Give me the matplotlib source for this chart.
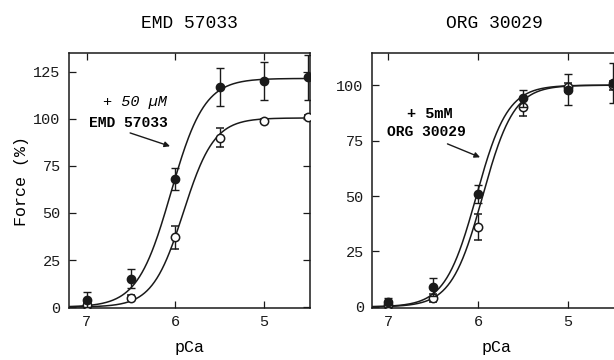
import numpy as np
import matplotlib.pyplot as plt

plt.rcParams['font.family'] = ['Liberation Mono', 'DejaVu Sans Mono']

# pCa values measured
pca = [7.0, 6.5, 6.0, 5.5, 5.0, 4.5]

# EMD 57033 panel
emd_ctrl = [1, 5, 37, 90, 99, 101]
emd_ctrl_err = [1, 1.5, 6, 5, 1, 1]
emd_drug = [4, 15, 68, 117, 120, 122]
emd_drug_err = [4, 5, 6, 10, 10, 12]

# ORG 30029 panel
org_ctrl = [1, 4, 36, 90, 99, 100]
org_ctrl_err = [1, 2, 6, 4, 2, 2]
org_drug = [2, 9, 51, 94, 98, 101]
org_drug_err = [2, 4, 4, 4, 7, 9]

# Hill fit parameters (Fmax, pCa50, n)
emd_ctrl_fit = (100.5, 5.91, 2.5)
emd_drug_fit = (121.5, 6.05, 2.3)
org_ctrl_fit = (100.0, 5.95, 2.5)
org_drug_fit = (100.0, 6.02, 2.5)


def hill(x, fmax, p50, n):
    return fmax / (1 + 10 ** (n * (x - p50)))


fig = plt.figure(figsize=(6.14, 3.6), dpi=100)
ax1 = fig.add_axes([0.1124, 0.1444, 0.3925, 0.7083])
ax2 = fig.add_axes([0.606, 0.1444, 0.407, 0.7083])

xs = np.linspace(7.2, 4.4, 300)
ink = '#1a1a1a'


def draw(ax, ctrl, ctrl_err, drug, drug_err, cfit, dfit):
    ax.plot(xs, hill(xs, *cfit), color=ink, lw=1.1)
    ax.plot(xs, hill(xs, *dfit), color=ink, lw=1.1)
    ax.errorbar(pca, ctrl, yerr=ctrl_err, fmt='o', ms=6, mfc='white',
                mec=ink, mew=1.1, ecolor=ink, elinewidth=1.0, capsize=3, zorder=3)
    ax.errorbar(pca, drug, yerr=drug_err, fmt='o', ms=6, mfc=ink,
                mec=ink, ecolor=ink, elinewidth=1.0, capsize=3, zorder=4)
    ax.tick_params(direction='in', top=True, right=True, length=5,
                   width=0.9, labelsize=11, colors=ink)
    ax.tick_params(axis='y', pad=6)
    ax.tick_params(axis='x', pad=5)
    for s in ax.spines.values():
        s.set_linewidth(1.1)
        s.set_color(ink)
    ax.set_xticks([7, 6, 5])
    ax.set_xlabel('pCa', fontsize=12, labelpad=8)


draw(ax1, emd_ctrl, emd_ctrl_err, emd_drug, emd_drug_err, emd_ctrl_fit, emd_drug_fit)
ax1.set_xlim(7.2, 4.48)
ax1.set_ylim(-0.5, 135)
ax1.set_yticks([0, 25, 50, 75, 100, 125])
ax1.set_ylabel('Force (%)', fontsize=12, labelpad=3)
ax1.set_title('EMD 57033', fontsize=13, pad=18)
ax1.text(6.46, 109, '+ 50 \u00b5M', fontsize=11, style='italic', ha='center', va='center')
ax1.text(6.53, 98, 'EMD 57033', fontsize=10.5, weight='bold', ha='center', va='center')
ax1.annotate('', xy=(6.03, 85), xytext=(6.54, 93),
             arrowprops=dict(arrowstyle='-|>', color=ink, lw=1.0, mutation_scale=8))

draw(ax2, org_ctrl, org_ctrl_err, org_drug, org_drug_err, org_ctrl_fit, org_drug_fit)
ax2.set_xlim(7.18, 4.4)
ax2.set_ylim(-0.5, 114.5)
ax2.set_yticks([0, 25, 50, 75, 100])
ax2.set_title('ORG 30029', fontsize=13, pad=18, x=0.49)
ax2.text(6.54, 87, '+ 5mM', fontsize=11, weight='bold', ha='center', va='center')
ax2.text(6.58, 79, 'ORG 30029', fontsize=10.5, weight='bold', ha='center', va='center')
ax2.annotate('', xy=(5.95, 67), xytext=(6.37, 74),
             arrowprops=dict(arrowstyle='-|>', color=ink, lw=1.0, mutation_scale=8))

fig.savefig('out.png', dpi=100)
